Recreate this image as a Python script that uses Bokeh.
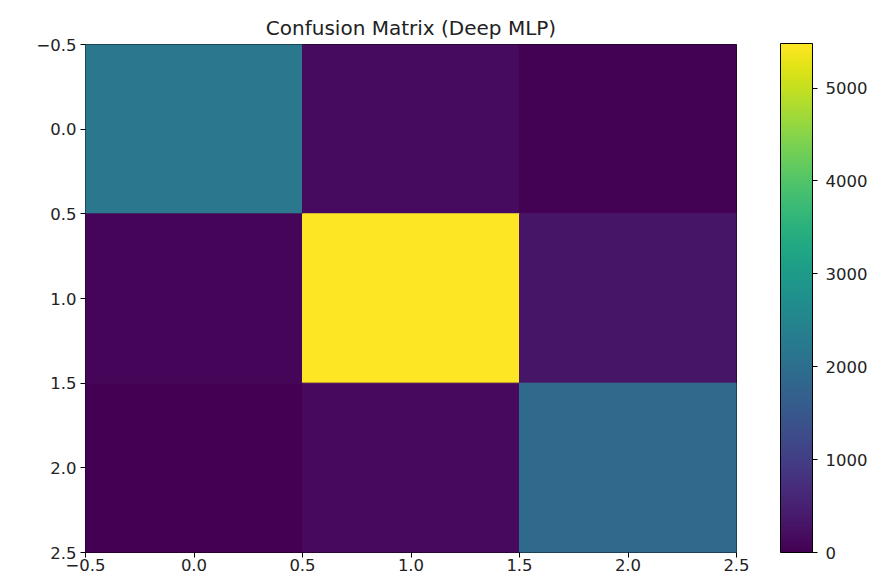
from bokeh.plotting import figure
from bokeh.models import (LinearColorMapper, ColorBar, FixedTicker, Range1d,
                          ColumnDataSource)
from bokeh.palettes import Viridis256
from bokeh.embed import file_html
from bokeh.resources import INLINE

# Data: confusion matrix (rows = true, cols = predicted)
rows = [0, 1, 2]
cols = [0, 1, 2]
row0 = [2180, 170, 30]
row1 = [90, 5480, 300]
row2 = [20, 140, 1900]
matrix = [row0, row1, row2]
tick_vals = [-0.5, 0.0, 0.5, 1.0, 1.5, 2.0, 2.5]
cbar_ticks = [0, 1000, 2000, 3000, 4000, 5000]

xs, ys, vals = [], [], []
for r, rowvals in zip(rows, matrix):
    for c, v in zip(cols, rowvals):
        xs.append(c)
        ys.append(r)
        vals.append(v)
src = ColumnDataSource(dict(x=xs, y=ys, v=vals))

FONT = "DejaVu Sans"
LBL = "16.5px"
mapper = LinearColorMapper(palette=Viridis256, low=0, high=max(vals))

p = figure(frame_width=651, frame_height=508, output_backend="svg",
           toolbar_location=None, x_range=Range1d(-0.5, 2.5),
           y_range=Range1d(2.5, -0.5), min_border_left=85, min_border_top=44,
           min_border_bottom=30, title="Confusion Matrix (Deep MLP)")
cmap_field = {"field": "v", "transform": mapper}
p.rect(x="x", y="y", width=1, height=1, source=src,
       fill_color=cmap_field, line_color=cmap_field, line_width=1)

p.title.align = "center"
p.title.text_font = FONT
p.title.text_font_size = "20px"
p.title.text_font_style = "normal"
p.title.text_color = "#222222"
p.title.offset = 0

p.grid.visible = False
p.outline_line_color = "black"
p.outline_line_width = 1
p.background_fill_color = "white"

def fmt(t):
    s = f"{abs(t):.1f}"
    return ("\u2212" + s) if t < 0 else s

for ax in (p.xaxis[0], p.yaxis[0]):
    ax.ticker = FixedTicker(ticks=tick_vals)
    ax.major_label_overrides = {t: fmt(t) for t in tick_vals}
    ax.major_label_text_font = FONT
    ax.major_label_text_font_size = LBL
    ax.major_label_text_color = "#222222"
    ax.major_tick_in = 0
    ax.major_tick_out = 5
    ax.minor_tick_line_color = None
    ax.axis_line_color = None
    ax.major_tick_line_color = "black"
    ax.major_label_standoff = 4
p.yaxis[0].major_label_orientation = "horizontal"
p.xaxis[0].major_label_standoff = 1

cb = ColorBar(color_mapper=mapper, width=32, height=509,
              ticker=FixedTicker(ticks=cbar_ticks),
              major_label_text_font=FONT, major_label_text_font_size=LBL,
              major_label_text_color="#222222",
              major_tick_in=0, major_tick_out=5,
              major_tick_line_color="black", bar_line_color="black",
              label_standoff=8, padding=0,
              location=(44, 0), background_fill_alpha=0)
p.add_layout(cb, "right")

open("out.html", "w").write(file_html(p, INLINE))
